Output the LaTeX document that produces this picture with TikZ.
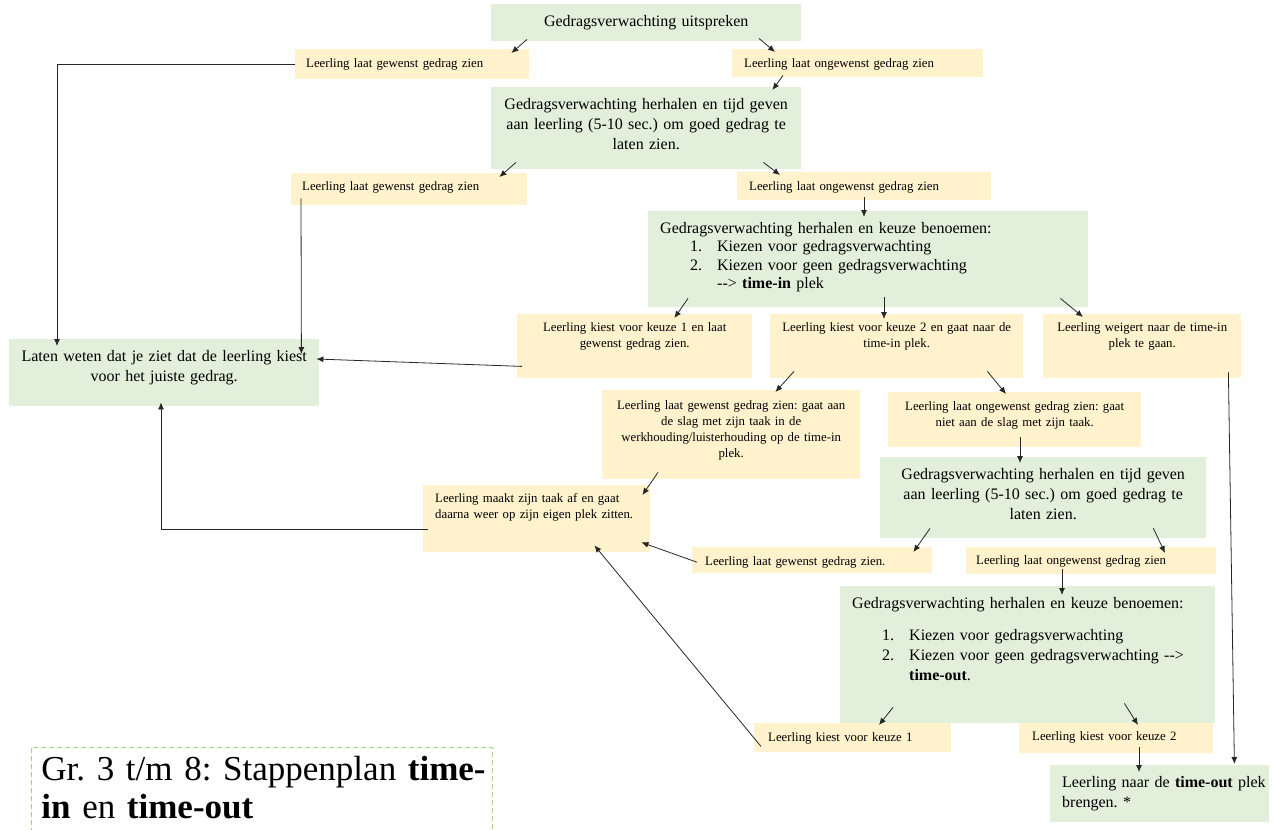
\documentclass[tikz,border=0pt]{standalone}
\usepackage{fontspec}
\setmainfont{Liberation Serif}
\usepackage{xcolor}
\usetikzlibrary{arrows.meta,calc}

\definecolor{geel}{HTML}{FFF2CC}
\definecolor{groen}{HTML}{E2EFDA}
\definecolor{rand}{HTML}{A9D18E}
\frenchspacing

\begin{document}
\begin{tikzpicture}[
    x=1pt, y=-1pt,
    >={Latex[length=7pt,width=6pt]},
    vak/.style={anchor=north west, inner ysep=0pt, inner xsep=6pt, align=center},
    geelvak/.style={vak, fill=geel, font=\fontsize{12.8}{16}\selectfont},
    groenvak/.style={vak, fill=groen, font=\fontsize{16}{20}\selectfont},
    pijl/.style={->, line width=0.8pt, black!85},
  ]
    \useasboundingbox (0,0) rectangle (1278,830);

    \node[groenvak, text width=298pt, text height=22pt, text depth=15pt] (start) at (491,4) {Gedragsverwachting uitspreken};
    \node[geelvak, align=left, inner xsep=11pt, text width=212pt, text height=18pt, text depth=12pt] (gew1) at (295,49) {Leerling laat gewenst gedrag zien};
    \node[geelvak, align=left, inner xsep=12pt, text width=227pt, text height=18pt, text depth=10pt] (ongew1) at (732,49) {Leerling laat ongewenst gedrag zien};
    \node[groenvak, text width=298pt, text height=22pt, text depth=60pt] (herh1) at (491,87) {Gedragsverwachting herhalen en tijd geven\\ aan leerling (5-10 sec.) om goed gedrag te\\ laten zien.};
    \node[geelvak, align=left, inner xsep=11pt, text width=214pt, text height=17pt, text depth=15pt] (gew2) at (291,173) {Leerling laat gewenst gedrag zien};
    \node[geelvak, align=left, inner xsep=12pt, text width=230pt, text height=18pt, text depth=10pt] (ongew2) at (737,172) {Leerling laat ongewenst gedrag zien};
    \node[groenvak, align=left, font=\fontsize{16}{18.5}\selectfont, inner xsep=12pt, text width=416pt, text height=22pt, text depth=74pt] (keuze1) at (648,211) {Gedragsverwachting herhalen en keuze benoemen:\\
      \hspace*{30pt}\makebox[27pt][l]{1.}Kiezen voor gedragsverwachting\\
      \hspace*{30pt}\makebox[27pt][l]{2.}Kiezen voor geen gedragsverwachting\\
      \hspace*{57pt}\mbox{-}\mbox{-}> \textbf{time-in} plek};
    \node[geelvak, text width=223pt, text height=17pt, text depth=47pt] (kies1) at (517,314) {Leerling kiest voor keuze 1 en laat\\ gewenst gedrag zien.};
    \node[geelvak, text width=241pt, text height=17pt, text depth=47pt] (kies2) at (770,314) {Leerling kiest voor keuze 2 en gaat naar de\\ time-in plek.};
    \node[geelvak, text width=186pt, text height=17pt, text depth=47pt] (weigert) at (1043,314) {Leerling weigert naar de time-in\\ plek te gaan.};
    \node[groenvak, text width=298pt, text height=22pt, text depth=45pt] (laten) at (9,339) {Laten weten dat je ziet dat de leerling kiest\\ voor het juiste gedrag.};
    \node[geelvak, text width=246pt, text height=19pt, text depth=70pt] (gew3) at (602,390) {Leerling laat gewenst gedrag zien: gaat aan\\ de slag met zijn taak in de\\ werkhouding/luisterhouding op de time-in\\ plek.};
    \node[geelvak, text width=241pt, text height=18pt, text depth=37pt] (ongew3) at (888,392) {Leerling laat ongewenst gedrag zien: gaat\\ niet aan de slag met zijn taak.};
    \node[groenvak, text width=314pt, text height=22pt, text depth=59pt] (herh2) at (880,457) {Gedragsverwachting herhalen en tijd geven\\ aan leerling (5-10 sec.) om goed gedrag te\\ laten zien.};
    \node[geelvak, align=left, inner xsep=12pt, text width=203pt, text height=17pt, text depth=50pt] (maakt) at (423,485) {Leerling maakt zijn taak af en gaat\\ daarna weer op zijn eigen plek zitten.};
    \node[geelvak, align=left, inner xsep=13pt, text width=214pt, text height=18pt, text depth=8pt] (gew4) at (692,547) {Leerling laat gewenst gedrag zien.};
    \node[geelvak, align=left, inner xsep=10pt, text width=230pt, text height=17pt, text depth=10pt] (ongew4) at (966,547) {Leerling laat ongewenst gedrag zien};
    \node[groenvak, align=left, inner xsep=12pt, text width=351pt, text height=22pt, text depth=115pt] (keuze2) at (840,586) {Gedragsverwachting herhalen en keuze benoemen:\\[12pt]
      \hspace*{30pt}\makebox[27pt][l]{1.}Kiezen voor gedragsverwachting\\
      \hspace*{30pt}\makebox[27pt][l]{2.}Kiezen voor geen gedragsverwachting \mbox{-}\mbox{-}>\\
      \hspace*{57pt}\textbf{time-out}.};
    \node[geelvak, align=left, inner xsep=14pt, text width=169pt, text height=18pt, text depth=11pt] (kz1) at (754,723) {Leerling kiest voor keuze 1};
    \node[geelvak, align=left, inner xsep=13pt, text width=168pt, text height=17pt, text depth=13pt] (kz2) at (1019,723) {Leerling kiest voor keuze 2};
    \node[groenvak, align=left, inner xsep=12pt, text width=195pt, text height=22pt, text depth=35pt] (brengen) at (1050,765) {\mbox{Leerling naar de \textbf{time-out} plek}\\ brengen. *};
    \node[vak, align=left, draw=rand, line width=0.8pt, dash pattern=on 5pt off 3pt, inner xsep=10pt, text width=441pt, text height=33pt, text depth=100pt, font=\fontsize{35}{38}\selectfont] (titel) at (31,747) {\mbox{Gr. 3 t/m 8: Stappenplan \textbf{time-}}\\ \textbf{in} en \textbf{time-out}};

    \draw[pijl] ($(start.south west)+(36,-2)$) -- ($(gew1.north east)+(-18,4)$);
    \draw[pijl] ($(start.south west)+(268,-3)$) -- ($(ongew1.north west)+(43,3)$);
    \draw[pijl] ($(ongew1.south west)+(51,-2)$) -- ($(herh1.north east)+(-29,3)$);
    \draw[pijl] ($(herh1.south west)+(25,-7)$) -- ($(gew2.north east)+(-28,4)$);
    \draw[pijl] ($(herh1.south east)+(-38,-7)$) -- ($(ongew2.north west)+(43,3)$);
    \draw[pijl] ($(ongew2.south west)+(127,-3)$) -- ($(keuze1.north west)+(216,6)$);
    \draw[pijl] (gew1.west) -| ($(laten.north west)+(48,7)$);
    \draw[pijl] ($(gew2.south west)+(10,-7)$) -- ($(laten.north east)+(-18,15)$);
    \draw[pijl] ($(keuze1.south west)+(40,-9)$) -- ($(kies1.north east)+(-78,4)$);
    \draw[pijl] ($(keuze1.south west)+(236,-10)$) -- ($(kies2.north west)+(114,5)$);
    \draw[pijl] ($(keuze1.south east)+(-28,-9)$) -- ($(weigert.north west)+(40,3)$);
    \draw[pijl] ($(kies1.south west)+(5,-12)$) -- ($(laten.north east)+(-3,20)$);
    \draw[pijl] ($(weigert.south east)+(-13,-6)$) -- ($(brengen.north east)+(-35,-1)$);
    \draw[pijl] ($(kies2.south west)+(24,-7)$) -- ($(gew3.north east)+(-85,2)$);
    \draw[pijl] ($(kies2.south east)+(-36,-7)$) -- ($(ongew3.north west)+(118,2)$);
    \draw[pijl] ($(ongew3.south west)+(132,-10)$) -- ($(herh2.north west)+(140,6)$);
    \draw[pijl] ($(gew3.south west)+(56,-7)$) -- ($(maakt.north east)+(-8,10)$);
    \draw[pijl] ($(gew4.west)+(5,2)$) -- ($(maakt.south east)+(-9,-10)$);
    \draw[pijl] ($(maakt.south west)+(5,-23)$) -| ($(laten.south west)+(152,-4)$);
    \draw[pijl] ($(herh2.south west)+(50,-10)$) -- ($(gew4.north east)+(-19,5)$);
    \draw[pijl] ($(herh2.south east)+(-53,-10)$) -- ($(ongew4.north west)+(199,6)$);
    \draw[pijl] ($(ongew4.south west)+(96,-5)$) -- ($(keuze2.north west)+(222,9)$);
    \draw[pijl] ($(keuze2.south west)+(53,-16)$) -- ($(kz1.north west)+(125,2)$);
    \draw[pijl] ($(keuze2.south east)+(-91,-20)$) -- ($(kz2.north west)+(119,2)$);
    \draw[pijl] ($(kz1.south west)+(7,-6)$) -- ($(maakt.south east)+(-56,-7)$);
    \draw[pijl] ($(kz2.south west)+(120,-6)$) -- ($(brengen.north west)+(89,7)$);
  \end{tikzpicture}
\end{document}
